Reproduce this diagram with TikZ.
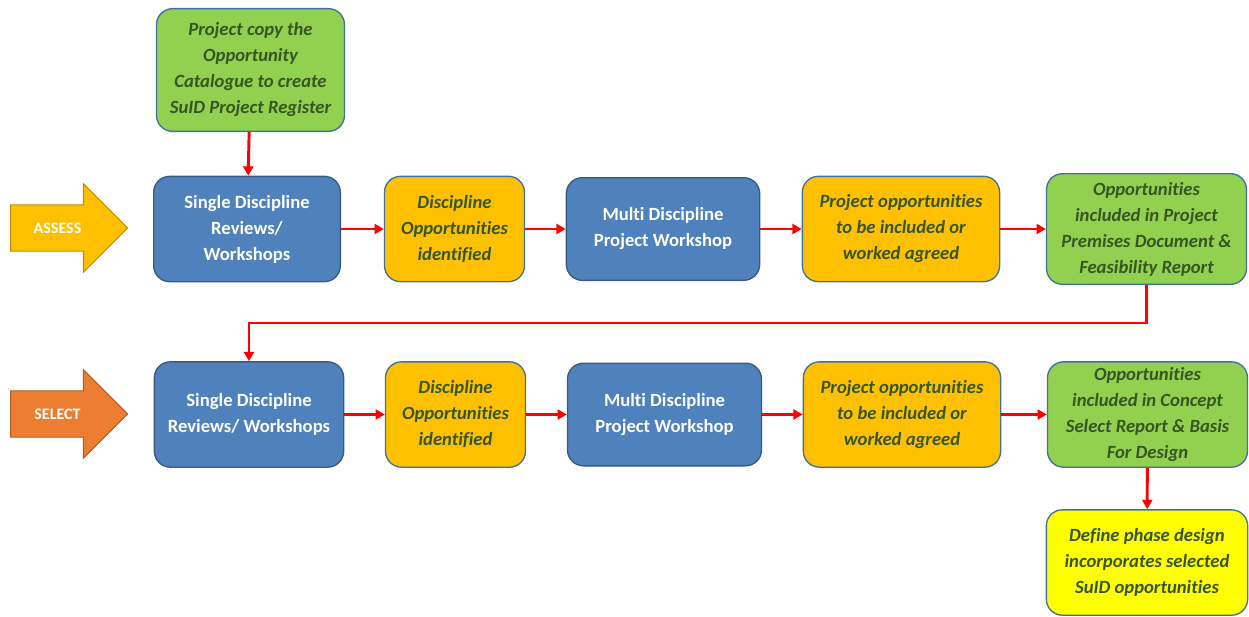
\documentclass[tikz,border=0pt]{standalone}
\usepackage{fontspec}
\setmainfont{Carlito}[Ligatures=NoCommon]
\usetikzlibrary{arrows.meta,shapes.arrows}
\definecolor{boxblue}{HTML}{4F81BD}
\definecolor{edgeblue}{HTML}{41719C}
\definecolor{boxorange}{HTML}{FFC000}
\definecolor{boxgreen}{HTML}{92D050}
\definecolor{boxyellow}{HTML}{FFFF00}
\definecolor{darkgreen}{HTML}{375623}
\definecolor{selorange}{HTML}{ED7D31}
\begin{document}
\begin{tikzpicture}[x=0.75pt,y=-0.75pt,
	card/.style={rounded corners=12pt,draw=edgeblue,line width=1pt,align=center,inner sep=0pt,minimum height=79pt,font=\fontsize{14}{19.5}\selectfont\bfseries},
	task/.style={card,fill=boxblue,draw=boxblue!70!black,text=white},
	note/.style={card,fill=#1,text=darkgreen,font=\fontsize{14}{19.5}\selectfont\bfseries\itshape},
	phase/.style={single arrow,single arrow head extend=15.75pt,minimum height=87.75pt,inner xsep=4pt,inner ysep=12.9pt,text height=8pt,text depth=0pt,fill=#1,draw=#1!75!black,line width=0.8pt,text=white,font=\fontsize{12}{14}\selectfont\bfseries},
	link/.style={red,line width=2.2pt,-{Triangle[length=7pt,width=7.5pt]}}]
	\useasboundingbox (0,0) rectangle (1249,617);
	\node[phase=boxorange,anchor=west] (assess) at (10,228) {ASSESS};
	\node[phase=selorange,anchor=west] (select) at (10,414) {SELECT};
	\node[note=boxgreen,minimum width=141pt,minimum height=92pt] (copy) at (250.5,70) {Project copy the\\Opportunity\\Catalogue to create\\SuID Project Register};
	\node[task,minimum width=140pt] (single1) at (247,229) {Single Discipline\\Reviews/\\Workshops};
	\node[note=boxorange,minimum width=105pt] (disc1) at (454.5,229) {Discipline\\Opportunities\\identified};
	\node[task,minimum width=145pt,minimum height=77pt] (multi1) at (663,229) {Multi Discipline\\Project Workshop};
	\node[note=boxorange,minimum width=148pt] (agree1) at (901,229) {Project opportunities\\to be included or\\worked agreed};
	\node[note=boxgreen,minimum width=150pt,minimum height=83pt] (report1) at (1146.5,229) {Opportunities\\included in Project\\Premises Document \&\\Feasibility Report};
	\node[task,minimum width=142pt] (single2) at (249,414.5) {Single Discipline\\Reviews/ Workshops};
	\node[note=boxorange,minimum width=105pt] (disc2) at (455.5,414.5) {Discipline\\Opportunities\\identified};
	\node[task,minimum width=145.5pt,minimum height=77pt] (multi2) at (664.5,414.5) {Multi Discipline\\Project Workshop};
	\node[note=boxorange,minimum width=148pt] (agree2) at (902,414.5) {Project opportunities\\to be included or\\worked agreed};
	\node[note=boxgreen,minimum width=150pt] (report2) at (1147.5,414.5) {Opportunities\\included in Concept\\Select Report \& Basis\\For Design};
	\node[note=boxyellow,minimum width=151pt] (define) at (1147,562.5) {Define phase design\\incorporates selected\\SuID opportunities};
	\draw[link] (copy) -- (single1);
	\draw[link] (single1) -- (disc1);
	\draw[link] (disc1) -- (multi1);
	\draw[link] (multi1) -- (agree1);
	\draw[link] (agree1) -- (report1);
	\draw[link,rounded corners=0pt] (report1.south) -- ++(0,38) -| (single2.north);
	\draw[link] (single2) -- (disc2);
	\draw[link] (disc2) -- (multi2);
	\draw[link] (multi2) -- (agree2);
	\draw[link] (agree2) -- (report2);
	\draw[link] (report2) -- (define);
\end{tikzpicture}
\end{document}
